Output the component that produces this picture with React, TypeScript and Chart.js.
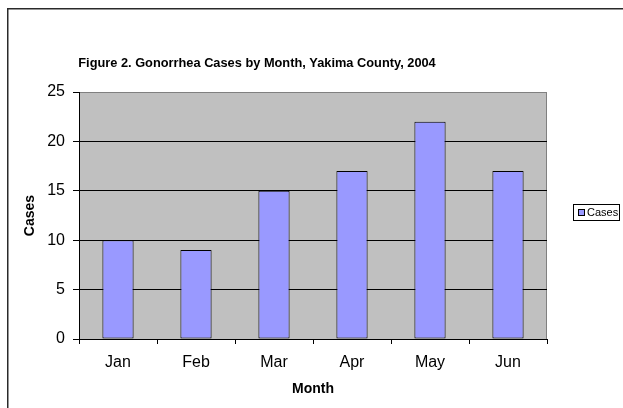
import React, { useEffect, useRef } from "react";
import { Chart, registerables } from "chart.js";

Chart.register(...registerables);

const TITLE = "Figure 2. Gonorrhea Cases by Month, Yakima County, 2004";
const MONTHS = ["Jan", "Feb", "Mar", "Apr", "May", "Jun"];
const CASES = [10, 9, 15, 17, 22, 17];
const SERIES_LABEL = "Cases";
const X_TITLE = "Month";
const Y_TITLE = "Cases";
const Y_MIN = 0;
const Y_MAX = 25;
const Y_STEP = 5;

const FONT = "'Liberation Sans', Arial, sans-serif";

const decorPlugin = {
  id: "decor",
  beforeDraw(chart: any) {
    const { ctx, chartArea } = chart;
    ctx.save();
    ctx.fillStyle = "#ffffff";
    ctx.fillRect(0, 0, chart.width, chart.height);
    // outer frame (top & left visible)
    ctx.fillStyle = "#2a2a2a";
    ctx.fillRect(7, 8, chart.width - 7, 1.5);
    ctx.fillRect(7, 8, 1.5, chart.height - 8);
    // plot background
    ctx.fillStyle = "#c0c0c0";
    ctx.fillRect(chartArea.left, chartArea.top, chartArea.right - chartArea.left, chartArea.bottom - chartArea.top);
    ctx.strokeStyle = "#808080";
    ctx.lineWidth = 1;
    ctx.strokeRect(chartArea.left + 0.5, chartArea.top + 0.5, chartArea.right - chartArea.left - 1, chartArea.bottom - chartArea.top);
    ctx.restore();
  },
  afterDraw(chart: any) {
    const { ctx } = chart;
    ctx.save();
    // title
    ctx.fillStyle = "#000";
    ctx.font = "bold 12.8px " + FONT;
    ctx.textAlign = "center";
    ctx.textBaseline = "middle";
    ctx.fillText(TITLE, 257, 63);
    // legend
    const ds = chart.data.datasets[0];
    ctx.strokeStyle = "#000";
    ctx.lineWidth = 1;
    ctx.fillStyle = "#ffffff";
    ctx.fillRect(573, 204, 46, 16);
    ctx.strokeRect(573.5, 204.5, 46, 16);
    ctx.fillStyle = ds.backgroundColor;
    ctx.fillRect(578, 209, 6, 6);
    ctx.strokeStyle = "#000";
    ctx.strokeRect(578.5, 209.5, 6, 6);
    ctx.fillStyle = "#000";
    ctx.font = "11px " + FONT;
    ctx.textAlign = "left";
    ctx.textBaseline = "middle";
    ctx.fillText(ds.label, 587, 213);
    ctx.restore();
  },
};

export default function App() {
  const ref = useRef<HTMLCanvasElement | null>(null);
  useEffect(() => {
    if (!ref.current) return;
    const chart = new Chart(ref.current, {
      type: "bar",
      data: {
        labels: MONTHS,
        datasets: [
          {
            label: SERIES_LABEL,
            data: CASES,
            backgroundColor: "#9999ff",
            borderColor: "#000000",
            borderWidth: 1,
            borderSkipped: false,
            categoryPercentage: 1,
            barPercentage: 0.4,
          },
        ],
      },
      options: {
        animation: false,
        responsive: false,
        devicePixelRatio: 1,
        layout: { padding: { top: 92, left: 0, right: 76, bottom: 0 } },
        plugins: {
          legend: { display: false },
          title: { display: false },
          tooltip: { enabled: false },
        },
        scales: {
          x: {
            afterFit: (s: any) => {
              s.height = 69;
            },
            grid: {
              offset: true,
              drawOnChartArea: false,
              drawTicks: true,
              tickLength: 5,
              tickColor: "#000",
            },
            border: { color: "#000", width: 1 },
            ticks: { color: "#000", font: { family: FONT, size: 16 }, padding: 9 },
            title: {
              display: true,
              text: X_TITLE,
              color: "#000",
              font: { family: FONT, size: 14, weight: "bold" },
              padding: { top: 0, bottom: 10 },
            },
          },
          y: {
            min: Y_MIN,
            max: Y_MAX,
            afterFit: (s: any) => {
              s.width = 79;
            },
            grid: {
              color: (c: any) => (c.tick && c.tick.value === Y_MAX ? "#808080" : "#000"),
              tickColor: "#000",
              tickLength: 6,
              lineWidth: 1,
            },
            border: { color: "#000", width: 1 },
            ticks: {
              stepSize: Y_STEP,
              color: "#000",
              font: { family: FONT, size: 16 },
              padding: 8,
            },
            title: {
              display: true,
              text: Y_TITLE,
              color: "#000",
              font: { family: FONT, size: 14, weight: "bold" },
              padding: { top: 22, bottom: 0 },
            },
          },
        },
      },
      plugins: [decorPlugin],
    });
    return () => chart.destroy();
  }, []);
  return (
    <div style={{ position: "absolute", left: 0, top: 0, width: 623, height: 408 }}>
      <canvas ref={ref} width={623} height={408} style={{ display: "block", width: 623, height: 408 }} />
    </div>
  );
}
